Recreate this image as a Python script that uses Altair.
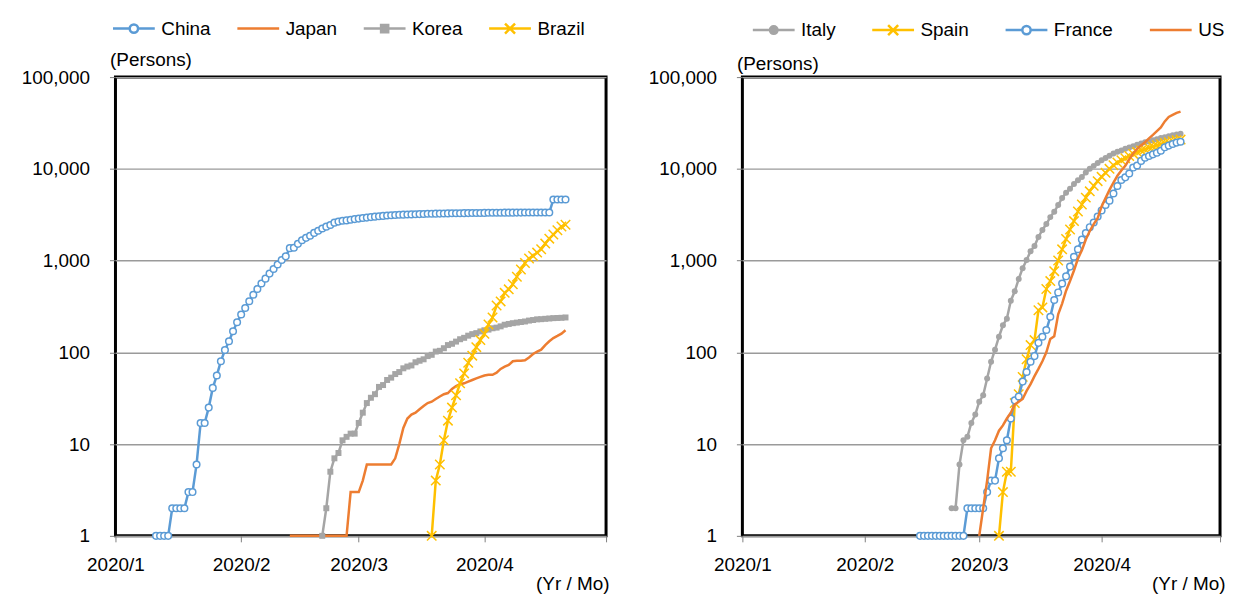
import altair as alt
import pandas as pd

BLUE = "#5B9BD5"
ORANGE = "#ED7D31"
GREY = "#A5A5A5"
YELLOW = "#FFC000"
FONT = "Liberation Sans"

# ---------------- data (cumulative deaths, persons) ----------------
china_start = "2020-01-11"
china_deaths = [1, 1, 1, 1, 2, 2, 2, 2, 3, 3, 6, 17, 17, 25, 41, 56, 80, 106, 132, 170, 213,
                259, 304, 361, 425, 490, 563, 636, 722, 811, 908, 1016, 1113, 1367, 1380, 1523,
                1665, 1770, 1868, 2004, 2118, 2236, 2345, 2442, 2592, 2663, 2715, 2744, 2788, 2835,
                2870, 2912, 2943, 2981, 3012, 3042, 3070, 3097, 3119, 3136, 3158, 3169, 3176, 3189,
                3199, 3213, 3226, 3237, 3245, 3248, 3255, 3261, 3270, 3277, 3281, 3287, 3292, 3295,
                3300, 3304, 3305,
                3312, 3318, 3322, 3326, 3329, 3331, 3331, 3333, 3335, 3336, 3339, 3339, 3341, 3341,
                3342, 3342, 3342, 4632, 4632, 4632, 4632]

japan_start = "2020-02-13"
japan_deaths = [1] * 15 + [3, 3,
                3, 4, 6, 6, 6, 6, 6, 6, 6, 7, 10, 15, 19, 21, 22, 24, 26, 28, 29, 31, 33, 35, 36,
                40, 43, 45, 46, 48, 50, 52, 54,
                56, 57, 57, 60, 66, 70, 73, 80, 81, 81, 82, 88, 96, 102, 107, 120, 132, 143, 151,
                160, 174]

korea_start = "2020-02-21"
korea_deaths = [1, 2, 5, 7, 8, 11, 12, 13, 13,
                17, 22, 28, 32, 35, 42, 44, 50, 53, 58, 61, 67, 70, 72, 78, 81, 84, 91, 94, 102,
                104, 111, 120, 124, 131, 139, 144, 152, 158, 162, 169,
                174, 177, 183, 186, 192, 200, 204, 208, 211, 214, 217, 222, 225, 229, 230, 232,
                234, 236, 237, 238, 240]

brazil_start = "2020-03-19"
brazil_deaths = [1, 4, 6, 11, 18, 25, 34, 46, 59, 77, 92, 114, 136,
                 159, 201, 240, 324, 359, 445, 486, 553, 667, 800, 941, 1056, 1124, 1223, 1328,
                 1532, 1736, 1924, 2141, 2354, 2462]

italy_start = "2020-02-23"
italy_deaths = [2, 2, 6, 11, 12, 17, 21,
                29, 34, 52, 79, 107, 148, 197, 233, 366, 463, 631, 827, 1016, 1266, 1441, 1809,
                2158, 2503, 2978, 3405, 4032, 4825, 5476, 6077, 6820, 7503, 8165, 9134, 10023,
                10779, 11591,
                12428, 13155, 13915, 14681, 15362, 15887, 16523, 17127, 17669, 18279, 18849,
                19468, 19899, 20465, 21067, 21645, 22170, 22745, 23227, 23660, 24114]

spain_start = "2020-03-06"
spain_deaths = [1, 3, 5, 5, 28, 35, 54, 84, 120, 136, 288, 309, 491, 598, 767, 1002, 1326, 1720,
                2182, 2696, 3434, 4089, 4858, 5690, 6528, 7340,
                8189, 9053, 10003, 10935, 11744, 12418, 13055, 13798, 14555, 15238, 15843, 16353,
                16972, 17489, 18056, 18579, 19130, 19478, 20043, 20453, 20852]

france_start = "2020-02-15"
france_deaths = [1] * 12 + [2, 2, 2,
                 2, 2, 3, 4, 4, 7, 9, 11, 19, 30, 33, 48, 61, 79, 91, 127, 148, 175, 244, 372,
                 450, 562, 674, 860, 1100, 1331, 1696, 1995, 2314, 2606, 3024,
                 3523, 4032, 4503, 5387, 6507, 7560, 8078, 8911, 10328, 10869, 12210, 13197,
                 13832, 14393, 14967, 15729, 17167, 17920, 18681, 19323, 19718]

us_start = "2020-03-01"
us_deaths = [1, 2, 4, 9, 11, 14, 16, 19, 22, 27, 29, 31, 38, 45, 55, 66, 80, 100, 140, 150,
             260, 340, 470, 600, 780, 1050, 1300, 1700, 2100, 2500, 2900,
             3900, 4800, 5900, 7100, 8400, 9600, 10800, 12700, 14700, 16500, 18000, 19500,
             21500, 23500, 25800, 28300, 32900, 36800, 38700, 40700, 42100]

left_names = ["China", "Japan", "Korea", "Brazil"]
right_names = ["Italy", "Spain", "France", "US"]
y_ticks = [1, 10, 100, 1000, 10000, 100000]


def frame(start, values):
    dates = pd.date_range(start, periods=len(values), freq="D").strftime("%Y-%m-%d")
    return pd.DataFrame({"date": list(dates), "deaths": values})


X_DOMAIN = [alt.DateTime(year=2020, month=1, date=1, utc=True),
            alt.DateTime(year=2020, month=5, date=1, utc=True)]
MONTHS = [alt.DateTime(year=2020, month=m, date=1, utc=True) for m in (1, 2, 3, 4, 5)]

X_PATH = "M-1,-1L1,1M-1,1L1,-1"

# legend symbols (line + marker)
LEG_CIRCLE = "M-1,0H-0.2M0.2,0H1M0.2,0A0.2,0.2 0 1,1 -0.2,0A0.2,0.2 0 1,1 0.2,0Z"
LEG_FCIRCLE = "M-1,0H1M0.18,0A0.18,0.18 0 1,1 -0.18,0A0.18,0.18 0 1,1 0.18,0Z"
LEG_LINE = "M-1,0H1"
LEG_SQUARE = "M-1,0H1M-0.17,-0.17H0.17V0.17H-0.17Z"
LEG_X = "M-1,0H1M-0.24,-0.24L0.24,0.24M-0.24,0.24L0.24,-0.24"

hollow_circle = dict(shape="circle", size=44, fill="white", strokeWidth=1.5, opacity=1, fillOpacity=1)


def panel(width, height, series, names, leg_paths, leg_colors, leg_fills,
          leg_x, leg_y, col_pad, persons_y, yrmo_dx):
    x = alt.X("date:T",
              scale=alt.Scale(type="utc", domain=X_DOMAIN),
              axis=alt.Axis(values=MONTHS,
                            labelExpr="utcmonth(datum.value) == 4 ? '' : utcFormat(datum.value, '%Y/%-m')",
                            title="(Yr / Mo)", titleX=width + yrmo_dx, titleY=54,
                            titleAlign="right", titleBaseline="alphabetic",
                            grid=False, domain=False, tickSize=6, labelPadding=14,
                            labelFlush=False, labelOverlap=False))
    y = alt.Y("deaths:Q",
              scale=alt.Scale(type="log", domain=[1, 100000], nice=False),
              axis=alt.Axis(values=y_ticks, format=",d", title="(Persons)", titleAngle=0,
                            titleX=-6, titleY=persons_y, titleAlign="left",
                            titleBaseline="alphabetic", grid=True, domain=False,
                            tickSize=6, labelPadding=20))
    layers = []
    for df, color, marker in series:
        base = alt.Chart(df).encode(x=x, y=y)
        layers.append(base.mark_line(color=color, strokeWidth=2.5))
        if marker is not None:
            layers.append(base.mark_point(**marker))

    leg = alt.Legend(orient="none", legendX=leg_x, legendY=leg_y, direction="horizontal",
                     columns=4, columnPadding=col_pad, title=None, symbolSize=1764,
                     symbolStrokeWidth=2.5, symbolOpacity=1, labelFontSize=19,
                     labelFont=FONT, labelColor="black", labelOffset=5, labelLimit=0)
    legend_df = pd.DataFrame({"series": names})
    legend_layer = alt.Chart(legend_df).mark_point(opacity=0).encode(
        x=alt.value(0), y=alt.value(0),
        shape=alt.Shape("series:N", scale=alt.Scale(domain=names, range=leg_paths), legend=leg),
        stroke=alt.Stroke("series:N", scale=alt.Scale(domain=names, range=leg_colors), legend=leg),
        fill=alt.Fill("series:N", scale=alt.Scale(domain=names, range=leg_fills), legend=leg),
    )
    layers.append(legend_layer)
    return alt.layer(*layers).properties(width=width, height=height)


left_series = [
    (frame(china_start, china_deaths), BLUE, dict(hollow_circle, stroke=BLUE)),
    (frame(japan_start, japan_deaths), ORANGE, None),
    (frame(korea_start, korea_deaths), GREY, dict(shape="square", size=36, filled=True, color=GREY, opacity=1)),
    (frame(brazil_start, brazil_deaths), YELLOW, dict(shape=X_PATH, size=90, filled=False, color=YELLOW, strokeWidth=1.5, opacity=1)),
]
right_series = [
    (frame(italy_start, italy_deaths), GREY, dict(shape="circle", size=36, filled=True, color=GREY, opacity=1)),
    (frame(spain_start, spain_deaths), YELLOW, dict(shape=X_PATH, size=90, filled=False, color=YELLOW, strokeWidth=1.5, opacity=1)),
    (frame(france_start, france_deaths), BLUE, dict(hollow_circle, stroke=BLUE)),
    (frame(us_start, us_deaths), ORANGE, None),
]

left = panel(493, 461, left_series, left_names,
             [LEG_CIRCLE, LEG_LINE, LEG_SQUARE, LEG_X],
             [BLUE, ORANGE, GREY, YELLOW],
             ["white", "transparent", GREY, "transparent"],
             -4, -71.5, 21, -12, 3)
right = panel(480, 461, right_series, right_names,
              [LEG_FCIRCLE, LEG_X, LEG_CIRCLE, LEG_LINE],
              [GREY, YELLOW, BLUE, ORANGE],
              [GREY, "transparent", "white", "transparent"],
              9, -70, 31, -8, 5)

chart = alt.concat(left, right, columns=2, spacing=35, align="none").resolve_scale(
    shape="independent", stroke="independent", fill="independent"
).resolve_legend(
    shape="independent", stroke="independent", fill="independent"
).properties(
    padding={"left": 11, "top": -5, "right": 0, "bottom": 0}
).configure(
    font=FONT,
    view=alt.ViewConfig(stroke="black", strokeWidth=3),
    axis=alt.AxisConfig(
        labelFont=FONT, labelFontSize=19, labelColor="black",
        titleFont=FONT, titleFontSize=19, titleFontWeight="normal", titleColor="black",
        tickColor="#7f7f7f", tickWidth=1, gridColor="#9a9a9a", gridWidth=1.4),
)

chart.save("out.html", embed_options={"renderer": "svg", "actions": False})
